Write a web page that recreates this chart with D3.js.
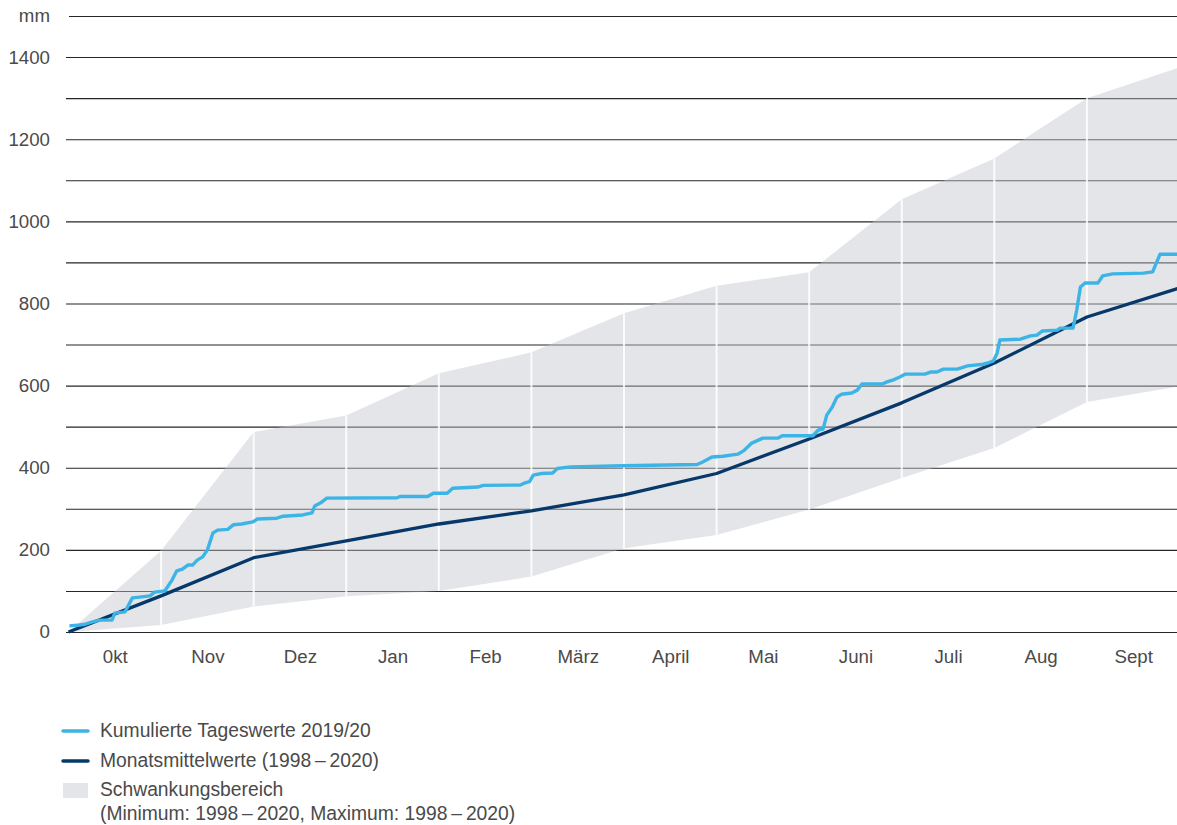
<!DOCTYPE html>
<html>
<head>
<meta charset="utf-8">
<script src="https://cdn.jsdelivr.net/npm/d3@7"></script>
<style>
  html, body { margin: 0; padding: 0; background: #fff; }
  svg { display: block; font-family: "Liberation Sans", "Helvetica Neue", Arial, sans-serif; }
</style>
</head>
<body>
<svg id="chart" width="1177" height="825"></svg>
<script>
// ---- data ----
const months = ["0kt", "Nov", "Dez", "Jan", "Feb", "März", "April", "Mai", "Juni", "Juli", "Aug", "Sept"];
// values at month boundaries (start of Oct ... end of Sept), mm
const bandMax = [0, 198, 487, 527, 630, 681, 776, 843, 876, 1054, 1153, 1300, 1375];
const bandMin = [0, 17, 62, 87, 100, 135, 204, 236, 298, 375, 448, 560, 598];
const monthlyMean = [0, 88, 181, 222, 263, 295, 334, 386, 470, 558, 655, 767, 838];
// cumulative daily values 2019/20: position in months since 1 Oct, value mm
const dailyT = [0.01, 0.12, 0.18, 0.25, 0.34, 0.47, 0.50, 0.61, 0.69, 0.77, 0.88, 0.93, 1.04, 1.12, 1.17, 1.23, 1.29, 1.34, 1.39, 1.45, 1.50, 1.56, 1.61, 1.72, 1.78, 1.87, 1.99, 2.04, 2.25, 2.32, 2.53, 2.63, 2.66, 2.72, 2.79, 3.55, 3.58, 3.88, 3.94, 4.09, 4.15, 4.42, 4.48, 4.88, 4.93, 4.98, 5.02, 5.11, 5.23, 5.28, 5.42, 5.99, 6.79, 6.85, 6.95, 7.07, 7.23, 7.29, 7.38, 7.50, 7.66, 7.71, 8.04, 8.10, 8.15, 8.19, 8.25, 8.30, 8.35, 8.46, 8.52, 8.57, 8.79, 8.84, 8.91, 8.98, 9.04, 9.25, 9.31, 9.38, 9.45, 9.60, 9.71, 9.88, 9.93, 9.99, 10.03, 10.06, 10.28, 10.39, 10.46, 10.52, 10.68, 10.71, 10.85, 10.89, 10.93, 10.98, 11.12, 11.17, 11.28, 11.61, 11.71, 11.79, 12.0];
const dailyV = [15, 17, 19, 24, 29, 29, 46, 49, 83, 85, 88, 97, 100, 127, 149, 153, 163, 163, 175, 183, 200, 241, 248, 250, 261, 263, 268, 275, 277, 282, 285, 290, 307, 314, 326, 327, 330, 330, 338, 338, 350, 353, 357, 358, 363, 366, 382, 386, 387, 398, 402, 405, 408, 414, 426, 428, 433, 441, 460, 472, 472, 478, 478, 492, 494, 528, 548, 572, 579, 582, 589, 604, 604, 609, 614, 621, 628, 628, 633, 633, 640, 640, 648, 652, 655, 660, 679, 711, 713, 721, 723, 733, 735, 740, 740, 784, 840, 850, 850, 867, 872, 874, 877, 920, 920];
const yTicks = [0, 100, 200, 300, 400, 500, 600, 700, 800, 900, 1000, 1100, 1200, 1300, 1400, 1500];
const yLabels = ["0", "", "200", "", "400", "", "600", "", "800", "", "1000", "", "1200", "", "1400", "mm"];
const legendLabels = ["Kumulierte Tageswerte 2019/20", "Monatsmittelwerte (1998\u2009\u2013\u20092020)", "Schwankungsbereich", "(Minimum: 1998\u2009\u2013\u20092020, Maximum: 1998\u2009\u2013\u20092020)"];

// ---- colours ----
const cLight = "#3db4e6";
const cDark = "#06386a";
const cText = "#4a4a4a";
const fs = "18.7px";
const fsLegend = "19.3px";

const svg = d3.select("#chart");
const W = 1177;

const x = d3.scaleLinear().domain([0, 12]).range([68.5, 1179.5]);
const y = d3.scaleLinear().domain([0, 1500]).range([632, 16]);

// grid + y labels
const yAxis = d3.axisLeft(y)
  .tickValues(yTicks)
  .tickSize(-(W - 66))
  .tickPadding(16)
  .tickFormat((d, i) => yLabels[i]);
const gy = svg.append("g").attr("transform", "translate(66,0)").call(yAxis);
gy.select(".domain").remove();
gy.selectAll(".tick line").attr("stroke", "#262626").attr("stroke-width", 1.1);
gy.selectAll(".tick text").attr("fill", cText).style("font-size", fs);
gy.selectAll(".tick").filter(d => d === 1500).select("line").attr("x1", 3);

// band
const idx = d3.range(13);
const area = d3.area().x(i => x(i)).y0(i => y(bandMin[i])).y1(i => y(bandMax[i]));
svg.append("path").datum(idx).attr("d", area)
  .attr("fill", "#c3c6cb").attr("fill-opacity", 0.45);

// white month separators within band
svg.append("g").selectAll("line").data(d3.range(1, 12)).join("line")
  .attr("x1", i => x(i)).attr("x2", i => x(i))
  .attr("y1", i => y(bandMin[i])).attr("y2", i => y(bandMax[i]))
  .attr("stroke", "#fff").attr("stroke-opacity", 0.85).attr("stroke-width", 2);

// month labels
const xAxis = d3.axisBottom(x)
  .tickValues(d3.range(12).map(i => i + 0.5))
  .tickSize(0).tickPadding(18)
  .tickFormat((d, i) => months[i]);
const gx = svg.append("g").attr("transform", "translate(0,632)").call(xAxis);
gx.select(".domain").remove();
gx.selectAll("text").attr("fill", cText).style("font-size", fs);

// lines
const meanLine = d3.line().x(i => x(i)).y(i => y(monthlyMean[i]));
svg.append("path").datum(idx).attr("d", meanLine)
  .attr("fill", "none").attr("stroke", cDark).attr("stroke-width", 3.3).attr("stroke-linejoin", "round");

const dailyLine = d3.line().x((d, i) => x(dailyT[i])).y((d, i) => y(dailyV[i]));
svg.append("path").datum(dailyV).attr("d", dailyLine)
  .attr("fill", "none").attr("stroke", cLight).attr("stroke-width", 3.4).attr("stroke-linejoin", "round");

// legend
const lg = svg.append("g");
lg.append("line").attr("x1", 63).attr("x2", 88).attr("y1", 731).attr("y2", 731)
  .attr("stroke", cLight).attr("stroke-width", 3.5).attr("stroke-linecap", "round");
lg.append("line").attr("x1", 63).attr("x2", 88).attr("y1", 761).attr("y2", 761)
  .attr("stroke", cDark).attr("stroke-width", 3.5).attr("stroke-linecap", "round");
lg.append("rect").attr("x", 63).attr("y", 783).attr("width", 25).attr("height", 15)
  .attr("fill", "#c3c6cb").attr("fill-opacity", 0.45);
const ly = [737, 767, 796, 820];
lg.selectAll("text").data(legendLabels).join("text")
  .attr("x", 100).attr("y", (d, i) => ly[i])
  .attr("fill", cText).style("font-size", fsLegend)
  .text(d => d);
</script>
</body>
</html>
